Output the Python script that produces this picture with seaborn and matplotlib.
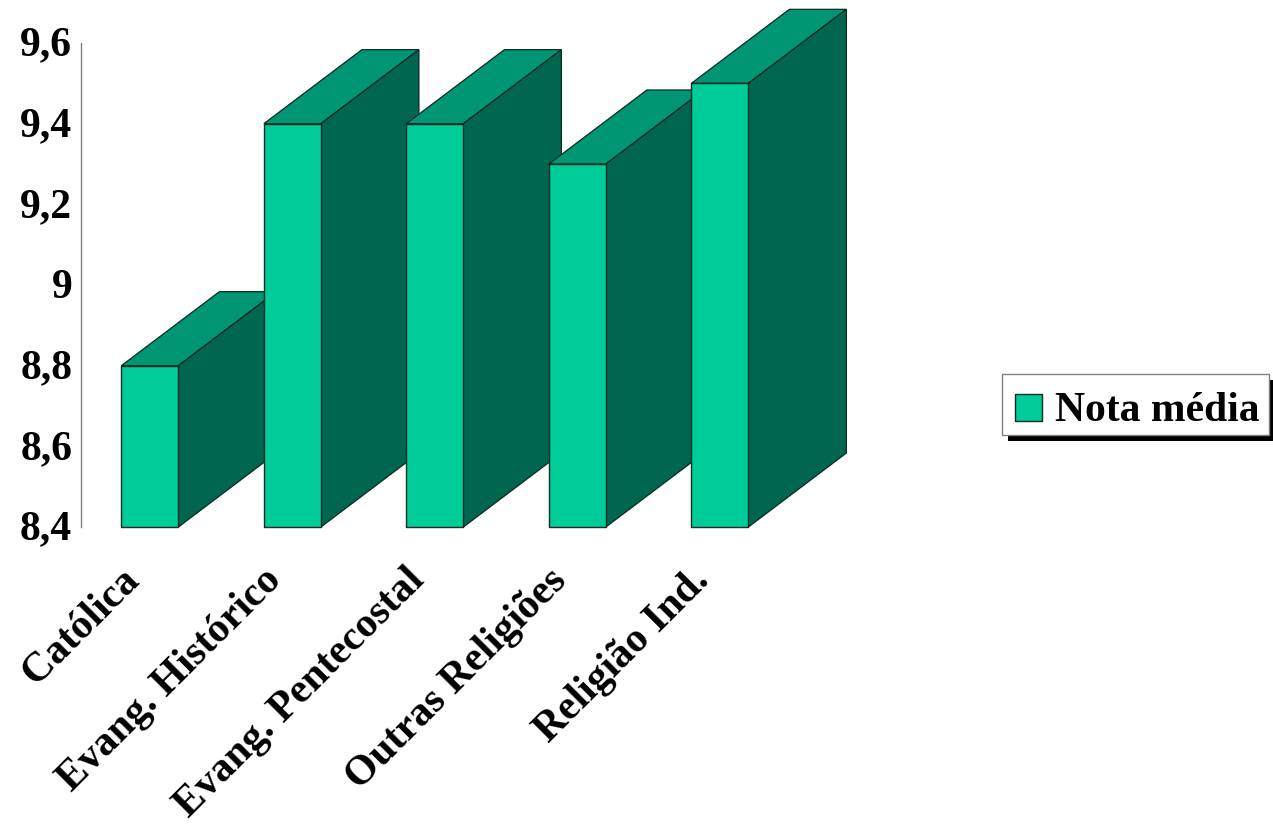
import matplotlib
matplotlib.use("Agg")
import matplotlib.pyplot as plt
import seaborn as sns
import pandas as pd
from matplotlib.patches import Polygon, Rectangle
from matplotlib.transforms import ScaledTranslation

categories = ["Católica", "Evang. Histórico", "Evang. Pentecostal", "Outras Religiões", "Religião Ind."]
values = [8.8, 9.4, 9.4, 9.3, 9.5]
series_name = "Nota média"
y_ticks = [8.4, 8.6, 8.8, 9.0, 9.2, 9.4, 9.6]
y_tick_labels = ["8,4", "8,6", "8,8", "9", "9,2", "9,4", "9,6"]

FRONT = "#00CC99"
TOP = "#009673"
SIDE = "#006650"
EDGE = "#0a2a22"

sns.set_theme(style="white")
plt.rcParams["font.family"] = ["Liberation Serif", "DejaVu Serif"]
plt.rcParams["font.weight"] = "bold"

W, H = 1273, 827
fig = plt.figure(figsize=(W / 100, H / 100), dpi=100)
ax = fig.add_axes([80.5 / W, 1 - 527 / H, 712.5 / W, 484 / H])

df = pd.DataFrame({"cat": categories, "val": values})
sns.barplot(data=df, x="cat", y="val", color=FRONT, saturation=1, width=0.4,
            edgecolor=EDGE, linewidth=1.0, ax=ax)

ax.set_xlim(-0.487, 4.513)
ax.set_ylim(8.4, 9.6)
ax.set_xlabel("")
ax.set_ylabel("")

base = 8.4
half = 0.2
dx = 98 / 142.5
dy = 74 / (484 / 1.2)
for i, (bar, v) in enumerate(zip(ax.patches, values)):
    z = 2 + i
    bar.set_y(base)
    bar.set_height(v - base)
    bar.set_zorder(z + 0.5)
    bar.set_clip_on(False)
    l, r = i - half, i + half
    ax.add_patch(Polygon([(l, v), (r, v), (r + dx, v + dy), (l + dx, v + dy)], closed=True,
                         facecolor=TOP, edgecolor=EDGE, linewidth=0.9, zorder=z, clip_on=False))
    ax.add_patch(Polygon([(r, base), (r, v), (r + dx, v + dy), (r + dx, base + dy)], closed=True,
                         facecolor=SIDE, edgecolor=EDGE, linewidth=0.9, zorder=z, clip_on=False))

for s in ["top", "right", "bottom"]:
    ax.spines[s].set_visible(False)
ax.spines["left"].set_linewidth(1.0)
ax.spines["left"].set_color("#808080")

ax.set_yticks(y_ticks)
ax.set_yticklabels(y_tick_labels, fontsize=30, fontweight="bold", color="black")
ax.tick_params(axis="y", length=0, pad=6)
ax.set_xticks(range(len(categories)))
ax.set_xticklabels(categories, fontsize=30, fontweight="bold", color="black",
                   rotation=45, ha="right", rotation_mode="anchor")
ax.tick_params(axis="x", length=0, pad=14)

up = ScaledTranslation(0, 2 / 100, fig.dpi_scale_trans)
for lab in ax.get_yticklabels():
    lab.set_transform(lab.get_transform() + up)
shift = ScaledTranslation(-30 / 100, -15 / 100, fig.dpi_scale_trans)
for lab in ax.get_xticklabels():
    lab.set_transform(lab.get_transform() + shift)

# legend box with hard shadow, placed in figure pixels
def fx(x): return x / W
def fy(y): return 1 - y / H
fig.add_artist(Rectangle((fx(1008), fy(441)), 268 / W, 61 / H, transform=fig.transFigure,
                         facecolor="black", edgecolor="black", linewidth=0))
fig.add_artist(Rectangle((fx(1002), fy(435)), 267 / W, 61 / H, transform=fig.transFigure,
                         facecolor="white", edgecolor="#808080", linewidth=1.0))
fig.add_artist(Rectangle((fx(1015), fy(421)), 27 / W, 27 / H, transform=fig.transFigure,
                         facecolor=FRONT, edgecolor=EDGE, linewidth=1.0))
fig.text(fx(1055), fy(411), series_name, fontsize=30, fontweight="bold", va="center", ha="left", color="black")

fig.savefig("out.png", dpi=100, facecolor="white")
